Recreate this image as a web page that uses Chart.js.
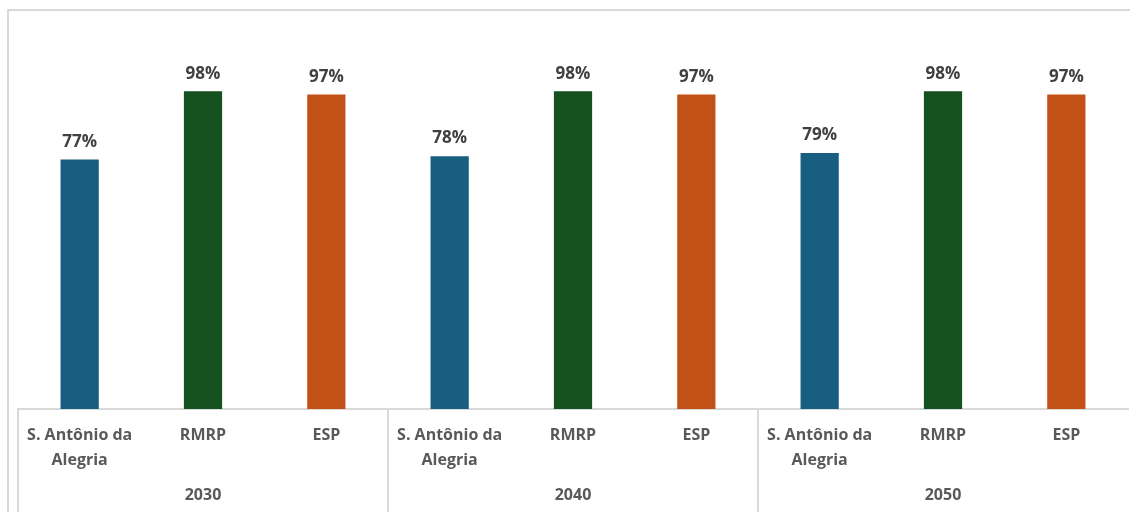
<!DOCTYPE html>
<html lang="pt">
<head>
    <meta charset="UTF-8">
    <title>Proporção por ano</title>
    <script src="https://cdn.jsdelivr.net/npm/chart.js"></script>
    <style>
        html, body { margin: 0; padding: 0; background: #fff; }
        #chart-container { width: 1130px; height: 512px; }
    </style>
</head>
<body>
    <div id="chart-container">
        <canvas id="myChart" width="1130" height="512"></canvas>
    </div>

    <script>
        const years = ['2030', '2040', '2050'];
        const places = [['S. Antônio da', 'Alegria'], 'RMRP', 'ESP'];
        const santoAntonio = [77, 78, 79];
        const rmrp = [98, 98, 98];
        const esp = [97, 97, 97];
        const placeColors = ['#185e81', '#15501f', '#c25118'];

        // one bar per (year, place), in year order
        const labels = [];
        const values = [];
        const colors = [];
        years.forEach((y, i) => {
            [santoAntonio, rmrp, esp].forEach((serie, j) => {
                labels.push(places[j]);
                values.push(serie[i]);
                colors.push(placeColors[j]);
            });
        });

        const lineColor = '#d9d9d9';
        const textColor = '#595959';

        // outer frame, group separators and year labels
        const groupAxis = {
            id: 'groupAxis',
            beforeDraw(chart) {
                const ctx = chart.ctx;
                ctx.save();
                ctx.strokeStyle = lineColor;
                ctx.lineWidth = 2;
                ctx.beginPath();
                ctx.moveTo(8, 520);
                ctx.lineTo(8, 10);
                ctx.lineTo(1140, 10);
                ctx.stroke();
                ctx.restore();
            },
            afterDraw(chart) {
                const ctx = chart.ctx;
                const x = chart.scales.x;
                const top = chart.chartArea.bottom;
                const half = (x.getPixelForValue(1) - x.getPixelForValue(0)) / 2;
                ctx.save();
                ctx.strokeStyle = lineColor;
                ctx.lineWidth = 2;
                // left edge of each year group
                for (let g = 0; g < years.length; g++) {
                    const px = Math.round(x.getPixelForValue(g * 3) - half);
                    ctx.beginPath();
                    ctx.moveTo(px, top);
                    ctx.lineTo(px, 520);
                    ctx.stroke();
                }
                ctx.fillStyle = textColor;
                ctx.font = 'bold 16px "Open Sans"';
                ctx.textAlign = 'center';
                ctx.textBaseline = 'middle';
                years.forEach((y, g) => {
                    ctx.fillText(y, x.getPixelForValue(g * 3 + 1), 495);
                });
                ctx.restore();
            }
        };

        // percentage above every bar
        const valueLabels = {
            id: 'valueLabels',
            afterDatasetsDraw(chart) {
                const ctx = chart.ctx;
                const meta = chart.getDatasetMeta(0);
                ctx.save();
                ctx.fillStyle = '#404040';
                ctx.font = 'bold 17px "Open Sans"';
                ctx.textAlign = 'center';
                ctx.textBaseline = 'bottom';
                meta.data.forEach((bar, i) => {
                    ctx.fillText(values[i] + '%', bar.x, bar.y - 9);
                });
                ctx.restore();
            }
        };

        const ctx = document.getElementById('myChart').getContext('2d');
        new Chart(ctx, {
            type: 'bar',
            data: {
                labels: labels,
                datasets: [{
                    data: values,
                    backgroundColor: colors,
                    borderWidth: 0,
                    categoryPercentage: 1,
                    barPercentage: 0.31
                }]
            },
            options: {
                responsive: false,
                animation: false,
                layout: { padding: { left: 18, right: 2, top: 20, bottom: 0 } },
                plugins: { legend: { display: false }, tooltip: { enabled: false } },
                scales: {
                    x: {
                        grid: { display: false, drawTicks: false },
                        border: { display: true, color: lineColor, width: 2 },
                        ticks: {
                            color: textColor,
                            font: { family: 'Open Sans', size: 16, weight: 'bold', lineHeight: 1.55 },
                            padding: 14,
                            maxRotation: 0,
                            autoSkip: false
                        },
                        afterFit(scale) { scale.height = 103; }
                    },
                    y: {
                        display: false,
                        min: 0,
                        max: 120
                    }
                }
            },
            plugins: [groupAxis, valueLabels]
        });
    </script>
</body>
</html>
